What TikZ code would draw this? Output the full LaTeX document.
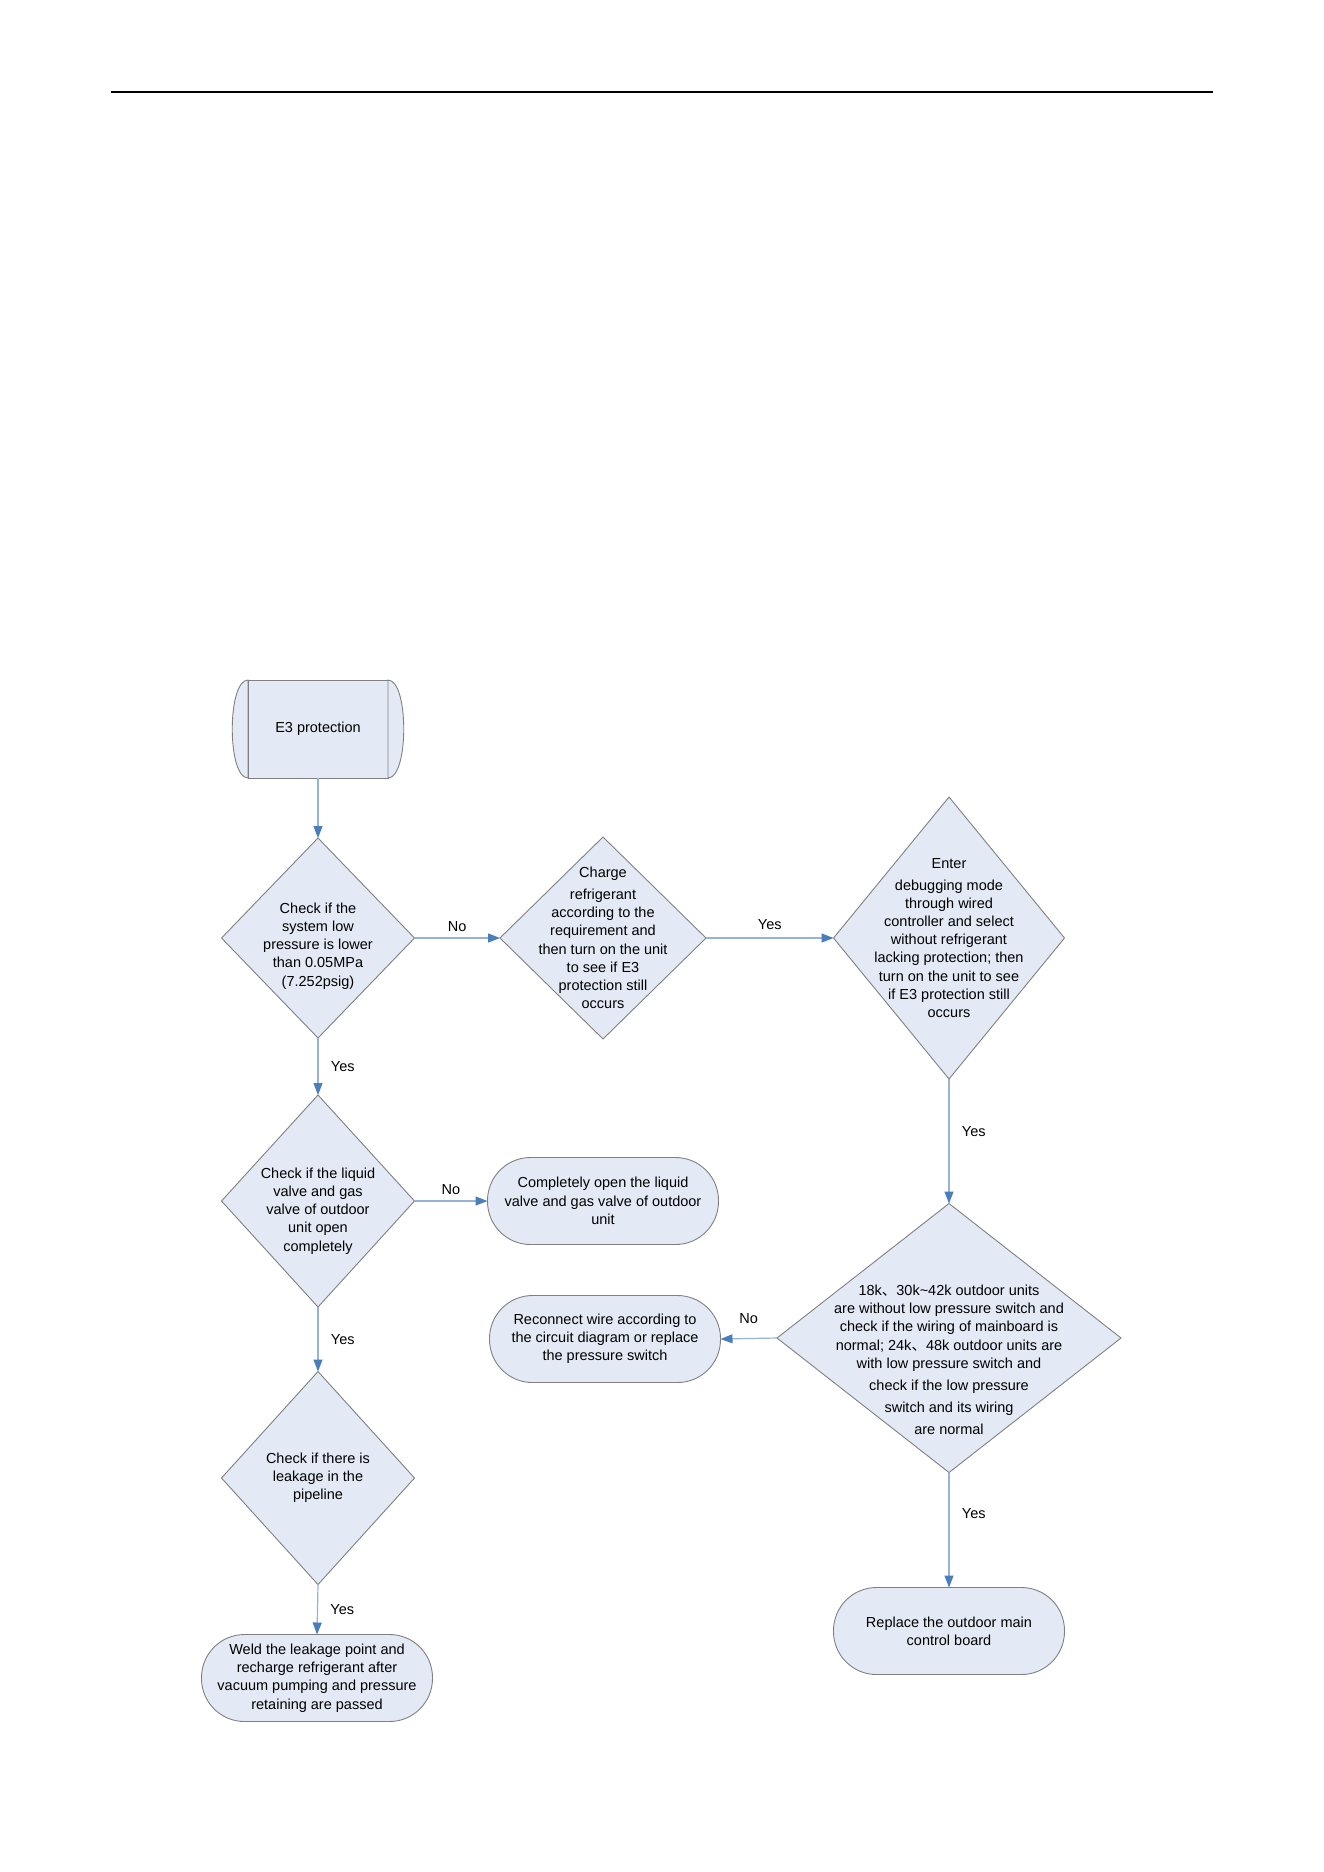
\documentclass[tikz,border=0pt]{standalone}
\usepackage{fontspec}
\setmainfont{Liberation Sans}
\newfontfamily\cjk{Noto Sans CJK SC}
\usetikzlibrary{shapes.geometric,arrows.meta}
\definecolor{boxfill}{RGB}{228,234,245}
\definecolor{edgegray}{RGB}{128,128,128}
\definecolor{lineblue}{RGB}{149,179,215}
\definecolor{tipblue}{RGB}{74,126,187}

\begin{document}
\begin{tikzpicture}[x=1pt,y=-1pt,
  every node/.style={font=\fontsize{14.5}{18.2}\selectfont,align=center},
  decision/.style={diamond,draw=edgegray,line width=0.9pt,fill=boxfill,inner sep=0pt,outer sep=0pt},
  terminal/.style={rectangle,rounded corners=43pt,draw=edgegray,line width=0.9pt,fill=boxfill,
    minimum width=231pt,minimum height=87pt,outer sep=0pt},
  flowline/.style={draw=lineblue,line width=1.2pt,-{Triangle[length=12pt,width=9pt,color=tipblue]}}]
  \useasboundingbox (0,0) rectangle (1324,1872);
  \draw[line width=2pt] (111,92) -- (1213,92);

  \node[draw=edgegray,line width=0.9pt,fill=boxfill,minimum width=140pt,minimum height=98pt,outer sep=0pt]
    (start) at (318,729) {E3 protection};
  \draw[edgegray,line width=0.9pt,fill=boxfill] (start.north west) .. controls +(-21,0) and +(-21,0) .. (start.south west) -- cycle;
  \draw[edgegray,line width=0.9pt,fill=boxfill] (start.north east) .. controls +(21,0) and +(21,0) .. (start.south east) -- cycle;

  \node[decision,minimum width=193pt,minimum height=200pt,
    label={[yshift=-8pt]center:Check if the\\system low\\pressure is lower\\than 0.05MPa\\(7.252psig)}]
    (lowp) at (318,938) {};
  \node[decision,minimum width=206pt,minimum height=202pt,
    label={center:Charge\\[3.5pt]refrigerant\\according to the\\requirement and\\then turn on the unit\\to see if E3\\protection still\\occurs}]
    (charge) at (603,938) {};
  \node[decision,minimum width=231pt,minimum height=282pt,
    label={center:Enter\\[3.5pt]debugging mode\\through wired\\controller and select\\without refrigerant\\lacking protection; then\\turn on the unit to see\\if E3 protection still\\occurs}]
    (debug) at (949,938) {};
  \node[decision,minimum width=193pt,minimum height=212pt,
    label={[yshift=-10pt]center:Check if the liquid\\valve and gas\\valve of outdoor\\unit open\\completely}]
    (valve) at (318,1201) {};
  \node[terminal] (openv) at (603,1201) {Completely open the liquid\\valve and gas valve of outdoor\\unit};
  \node[decision,minimum width=344pt,minimum height=269pt,
    label={[yshift=-22pt]center:18k{\cjk 、}30k\textasciitilde42k outdoor units\\are without low pressure switch and\\check if the wiring of mainboard is\\normal; 24k{\cjk 、}48k outdoor units are\\with low pressure switch and\\[4pt]check if the low pressure\\[4pt]switch and its wiring\\[4pt]are normal}]
    (wiring) at (949,1338) {};
  \node[terminal] (reconnect) at (605,1339) {Reconnect wire according to\\the circuit diagram or replace\\the pressure switch};
  \node[decision,minimum width=193pt,minimum height=213pt,
    label={center:Check if there is\\leakage in the\\pipeline}]
    (leak) at (318,1478) {};
  \node[terminal] (weld) at (317,1678) {Weld the leakage point and\\recharge refrigerant after\\vacuum pumping and pressure\\retaining are passed};
  \node[terminal] (replace) at (949,1631) {Replace the outdoor main\\control board};

  \draw[flowline] (start.south) -- (lowp.north);
  \draw[flowline] (lowp.east) -- node[above=2pt] {No} (charge.west);
  \draw[flowline] (charge.east) -- node[above=4pt] {Yes} (debug.west);
  \draw[flowline] (lowp.south) -- node[right=9pt] {Yes} (valve.north);
  \draw[flowline] (valve.east) -- node[above=2pt] {No} (openv.west);
  \draw[flowline] (debug.south) -- node[pos=0.42,right=9pt] {Yes} (wiring.north);
  \draw[flowline] (wiring.west) -- node[above=11pt] {No} (reconnect.east);
  \draw[flowline] (valve.south) -- node[right=9pt] {Yes} (leak.north);
  \draw[flowline] (leak.south) -- node[right=9pt] {Yes} (weld.north);
  \draw[flowline] (wiring.south) -- node[pos=0.36,right=9pt] {Yes} (replace.north);
\end{tikzpicture}
\end{document}
